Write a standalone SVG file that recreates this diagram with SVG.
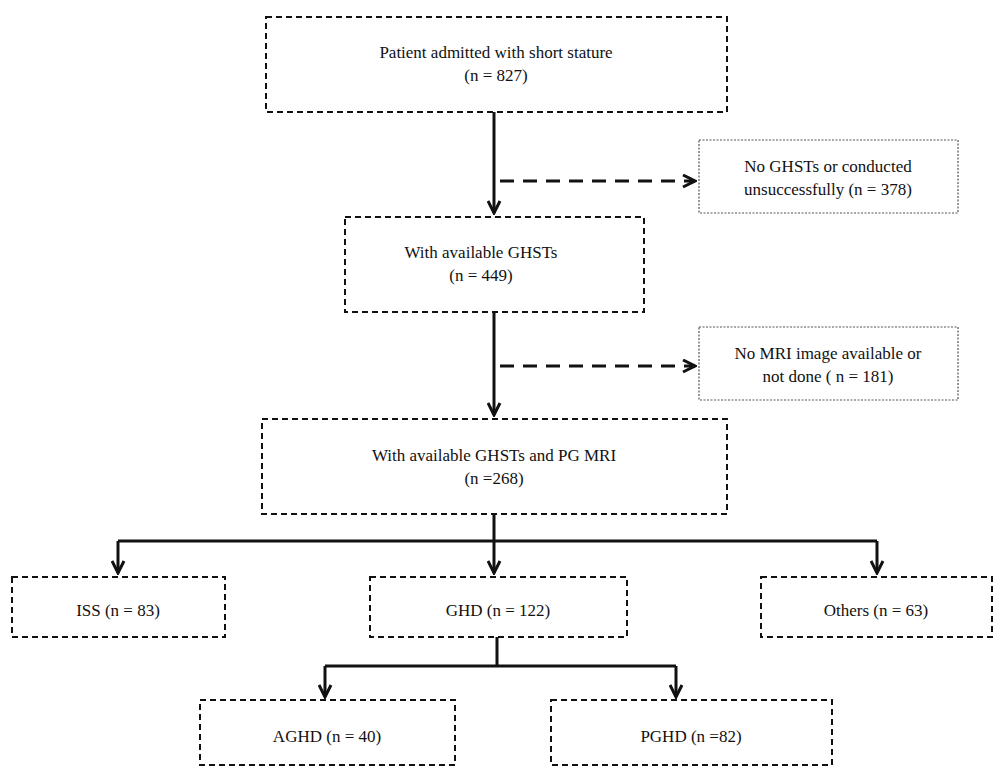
<svg xmlns="http://www.w3.org/2000/svg" width="1000" height="772" viewBox="0 0 1000 772">
<style>
.b{fill:#fff;stroke:#111;stroke-width:2;stroke-dasharray:6 4}
.s{fill:#fff;stroke:#555;stroke-width:1.2;stroke-dasharray:2 1.5}
text{font-family:"Liberation Serif",serif;font-size:17px;fill:#111;text-anchor:middle}
.c{fill:none;stroke:#111;stroke-width:3}
.d{fill:none;stroke:#111;stroke-width:3;stroke-dasharray:14 9}
</style>
<defs><marker id="a" viewBox="0 0 10 10" refX="9" refY="5" markerWidth="5" markerHeight="5" orient="auto" markerUnits="strokeWidth"><path d="M1,1 L9,5 L1,9" fill="none" stroke="#111" stroke-width="2"/></marker></defs>
<rect width="1000" height="772" fill="#fff"/>
<g id="connectors">
<path class="c" d="M494,112 V213" marker-end="url(#a)"/>
<path class="d" d="M500,181 H695" marker-end="url(#a)"/>
<path class="c" d="M494,312 V415" marker-end="url(#a)"/>
<path class="d" d="M500,366 H695" marker-end="url(#a)"/>
<path class="c" d="M494,514 V541 M118,541 H877"/>
<path class="c" d="M118,541 V573" marker-end="url(#a)"/>
<path class="c" d="M494,541 V573" marker-end="url(#a)"/>
<path class="c" d="M877,541 V573" marker-end="url(#a)"/>
<path class="c" d="M497,637 V666 M325,666 H676"/>
<path class="c" d="M325,666 V697" marker-end="url(#a)"/>
<path class="c" d="M676,666 V697" marker-end="url(#a)"/>
</g>
<g id="n1"><rect class="b" x="266" y="17" width="461" height="95"/><text x="496" y="58">Patient admitted with short stature</text><text x="496" y="81">(n = 827)</text></g>
<g id="n2"><rect class="s" x="699" y="140" width="259" height="73"/><text x="828" y="172">No GHSTs or conducted</text><text x="828" y="195">unsuccessfully (n = 378)</text></g>
<g id="n3"><rect class="b" x="345" y="217" width="299" height="95"/><text x="481" y="258">With available GHSTs</text><text x="481" y="281">(n = 449)</text></g>
<g id="n4"><rect class="s" x="699" y="327" width="259" height="73"/><text x="828" y="359">No MRI image available or</text><text x="828" y="382">not done ( n = 181)</text></g>
<g id="n5"><rect class="b" x="262" y="419" width="465" height="95"/><text x="494" y="461">With available GHSTs and PG MRI</text><text x="494" y="484">(n =268)</text></g>
<g id="n6"><rect class="b" x="12" y="577" width="213" height="60"/><text x="118" y="616">ISS (n = 83)</text></g>
<g id="n7"><rect class="b" x="370" y="577" width="257" height="60"/><text x="498" y="616">GHD (n = 122)</text></g>
<g id="n8"><rect class="b" x="761" y="577" width="231" height="60"/><text x="876" y="616">Others (n = 63)</text></g>
<g id="n9"><rect class="b" x="200" y="700" width="255" height="65"/><text x="327" y="742">AGHD (n = 40)</text></g>
<g id="n10"><rect class="b" x="551" y="700" width="281" height="65"/><text x="691" y="742">PGHD (n =82)</text></g>
</svg>
